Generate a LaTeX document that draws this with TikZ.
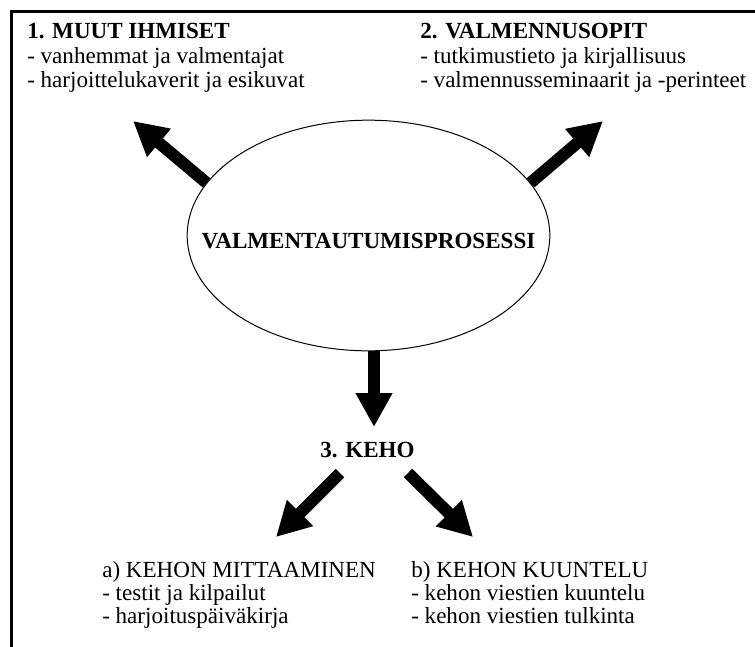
\documentclass[tikz,border=0pt]{standalone}
\usepackage{fontspec}
\setmainfont{Liberation Serif}
\usetikzlibrary{arrows.meta,shapes.geometric}

\newcommand\txtsize{\fontsize{17.3}{18}\selectfont}

\tikzset{
    head/.style={font=\txtsize\bfseries, inner sep=0pt},
    item/.style={font=\txtsize, anchor=base west, inner sep=0pt},
    bigarrow/.style={line width=9pt, -{Triangle[length=25.5pt,width=26pt]}},
}

\begin{document}
\begin{tikzpicture}[x=0.75pt,y=-0.75pt]

\useasboundingbox (0,0) rectangle (755,646);
\draw [line width=2.25pt] (11.5,700) -- (11.5,11.5) -- (800,11.5);

% the process in the middle
\node [ellipse, draw, line width=0.75pt, inner sep=0pt,
       minimum width=272pt, minimum height=173pt] (proc) at (368.5,235.5) {};
\node [head, anchor=base] (procname) at (368.5,248) {VALMENTAUTUMISPROSESSI};

% 1. and 2.
\node [head, anchor=base west] (ihm) at (27,38) {1. MUUT IHMISET};
\node [item] (ihm1) at (27,63) {- vanhemmat ja valmentajat};
\node [item] (ihm2) at (27,87) {- harjoittelukaverit ja esikuvat};

\node [head, anchor=base west] (opit) at (420,38) {2. VALMENNUSOPIT};
\node [item] (opit1) at (420,63) {- tutkimustieto ja kirjallisuus};
\node [item] (opit2) at (420,87) {- valmennusseminaarit ja -perinteet};

% 3.
\node [head, anchor=base] (keho) at (367.5,457) {3. KEHO};

\node [item] (mitt) at (102,577) {a) KEHON MITTAAMINEN};
\node [item] (mitt1) at (102,600) {- testit ja kilpailut};
\node [item] (mitt2) at (102,623) {- harjoituspäiväkirja};

\node [item] (kuun) at (411,577) {b) KEHON KUUNTELU};
\node [item] (kuun1) at (411,600) {- kehon viestien kuuntelu};
\node [item] (kuun2) at (411,623) {- kehon viestien tulkinta};

% arrows
\coordinate (toihm) at (133,121);
\coordinate (toopit) at (603,121);
\coordinate (tokeho) at (374,427);
\coordinate (froma) at (340,473);
\coordinate (toa) at (276,537);
\coordinate (fromb) at (408,473);
\coordinate (tob) at (473,537);

\draw [bigarrow] (proc.162) -- (toihm);
\draw [bigarrow] (proc.18) -- (toopit);
\draw [bigarrow] (tokeho |- proc.south) -- (tokeho);
\draw [bigarrow] (froma) -- (toa);
\draw [bigarrow] (fromb) -- (tob);

\end{tikzpicture}
\end{document}
